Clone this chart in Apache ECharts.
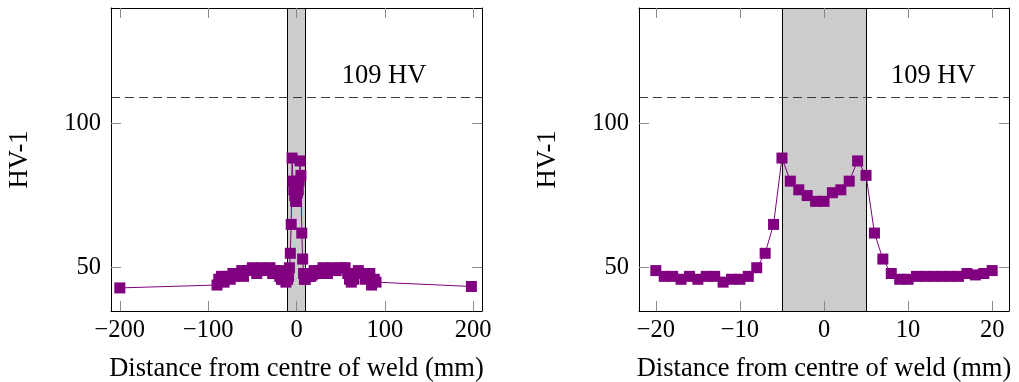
<!DOCTYPE html>
<html>
<head>
<meta charset="utf-8">
<script src="https://cdn.jsdelivr.net/npm/echarts@6/dist/echarts.min.js"></script>
<style>
  html, body { margin: 0; padding: 0; background: #fff; }
  #chart { width: 1019px; height: 382px; }
</style>
</head>
<body>
<div id="chart"></div>
<script>
// Hardness traverse across the weld (HV-1), full length and close-up.
const nearX  = [-20, -19, -18, -17, -16, -15, -14, -13, -12, -11, -10, -9, -8, -7, -6, -5, -4, -3, -2, -1,
                0, 1, 2, 3, 4, 5, 6, 7, 8, 9, 10, 11, 12, 13, 14, 15, 16, 17, 18, 19, 20];
const nearHV = [49, 47, 47, 46, 47, 46, 47, 47, 45, 46, 46, 47, 50, 55, 65, 88, 80, 77, 75, 73,
                73, 76, 77, 80, 87, 82, 62, 53, 48, 46, 46, 47, 47, 47, 47, 47, 47, 48, 47.5, 48, 49];

const farLeftX   = [-200, -90, -88, -85, -82, -80, -75, -72, -70, -65, -62, -60, -55, -50, -45, -40, -35, -30, -27, -25, -22];
const farLeftHV  = [43, 44, 46, 47, 45, 47, 46, 48, 47, 48, 49, 47, 49, 50, 48, 50, 49, 50, 48, 49, 48];
const farRightX  = [22, 25, 28, 30, 35, 40, 45, 50, 55, 58, 60, 62, 65, 70, 75, 78, 80, 83, 85, 88, 90, 198];
const farRightHV = [48, 49, 48, 50, 48, 50, 49, 50, 50, 48, 46, 45, 46, 49, 48, 46, 47, 48, 44, 46, 45, 43.5];

const hvLimit = 109;                 // required hardness, dashed reference line
const weldZoneFull = [-10, 10];      // shaded weld zone, full view
const weldZoneNear = [-5, 5];        // shaded weld zone, close-up

const fullTicksX = [-200, -100, 0, 100, 200];
const nearTicksX = [-20, -10, 0, 10, 20];
const ticksY = [50, 100];

const xTitle = 'Distance from centre of weld (mm)';
const yTitle = 'HV-1';

const pairs = (xs, ys) => xs.map((x, i) => [x, ys[i]]);
const fullData = pairs(farLeftX, farLeftHV).concat(pairs(nearX, nearHV), pairs(farRightX, farRightHV));
const nearData = pairs(nearX, nearHV);

const FONT = 'Liberation Serif';
const TICK_SIZE = 24.5;
const NAME_SIZE = 26.5;
const minus = v => String(v).replace('-', '\u2212');
const PURPLE = '#800080';

function xAxes(grid, min, max, ticks) {
  const common = {
    type: 'value', gridIndex: grid, min, max, z: 10,
    splitLine: { show: false },
    axisLine: { show: true, onZero: false, lineStyle: { color: '#000', width: 1 } },
    axisTick: { show: true, inside: true, length: 10, customValues: ticks, lineStyle: { color: '#8a8a8a', width: 1 } }
  };
  return [
    Object.assign({}, common, {
      position: 'bottom',
      axisLabel: { show: true, customValues: ticks, formatter: minus, margin: 7,
                   fontFamily: FONT, fontSize: TICK_SIZE, color: '#000' },
      name: xTitle, nameLocation: 'middle', nameGap: 45,
      nameTextStyle: { fontFamily: FONT, fontSize: NAME_SIZE, color: '#000' }
    }),
    Object.assign({}, common, { position: 'top', axisLabel: { show: false } })
  ];
}

function yAxes(grid) {
  const common = {
    type: 'value', gridIndex: grid, min: 35, max: 140, z: 10,
    splitLine: { show: false },
    axisLine: { show: true, onZero: false, lineStyle: { color: '#000', width: 1 } },
    axisTick: { show: true, inside: true, length: 10, customValues: ticksY, lineStyle: { color: '#8a8a8a', width: 1 } }
  };
  return [
    Object.assign({}, common, {
      position: 'left',
      axisLabel: { show: true, customValues: ticksY, margin: 10,
                   fontFamily: FONT, fontSize: TICK_SIZE, color: '#000' },
      name: yTitle, nameLocation: 'middle', nameGap: 77,
      nameTextStyle: { fontFamily: FONT, fontSize: NAME_SIZE, color: '#000' }
    }),
    Object.assign({}, common, { position: 'right', axisLabel: { show: false } })
  ];
}

function decorations(axisIdx, zone, labelAt) {
  return {
    type: 'line', xAxisIndex: axisIdx, yAxisIndex: axisIdx, data: [], z: 1, silent: true,
    markArea: {
      silent: true,
      itemStyle: { color: '#cccccc' },
      data: [[{ xAxis: zone[0] }, { xAxis: zone[1] }]]
    },
    markLine: {
      silent: true, symbol: 'none', animation: false,
      label: { show: false },
      data: [
        { xAxis: zone[0], lineStyle: { color: '#000', width: 1, type: 'solid' } },
        { xAxis: zone[1], lineStyle: { color: '#000', width: 1, type: 'solid' } },
        { yAxis: hvLimit, lineStyle: { color: '#3d3d3d', width: 1.2, type: [9, 5] } }
      ]
    },
    markPoint: {
      silent: true, symbol: 'rect', symbolSize: 1, itemStyle: { opacity: 0 },
      label: { show: true, position: 'inside', formatter: hvLimit + ' HV',
               fontFamily: FONT, fontSize: NAME_SIZE, color: '#000', opacity: 1 },
      data: [{ coord: labelAt }]
    }
  };
}

function profile(axisIdx, data) {
  return {
    type: 'line', xAxisIndex: axisIdx, yAxisIndex: axisIdx, data, z: 5,
    symbol: 'rect', symbolSize: 11, showAllSymbol: true,
    lineStyle: { color: PURPLE, width: 1 },
    itemStyle: { color: PURPLE }
  };
}

const chart = echarts.init(document.getElementById('chart'), null, { renderer: 'canvas' });
chart.setOption({
  animation: false,
  grid: [
    { left: 111, top: 8, width: 371, height: 303, outerBoundsMode: 'none', containLabel: false },
    { left: 639, top: 8, width: 370, height: 303, outerBoundsMode: 'none', containLabel: false }
  ],
  xAxis: xAxes(0, -210, 210, fullTicksX).concat(xAxes(1, -22, 22, nearTicksX)),
  yAxis: yAxes(0).concat(yAxes(1)),
  series: [
    decorations(0, weldZoneFull, [99, 116.5]),
    profile(0, fullData),
    decorations(2, weldZoneNear, [13, 116.5]),
    profile(2, nearData)
  ]
});
</script>
</body>
</html>
